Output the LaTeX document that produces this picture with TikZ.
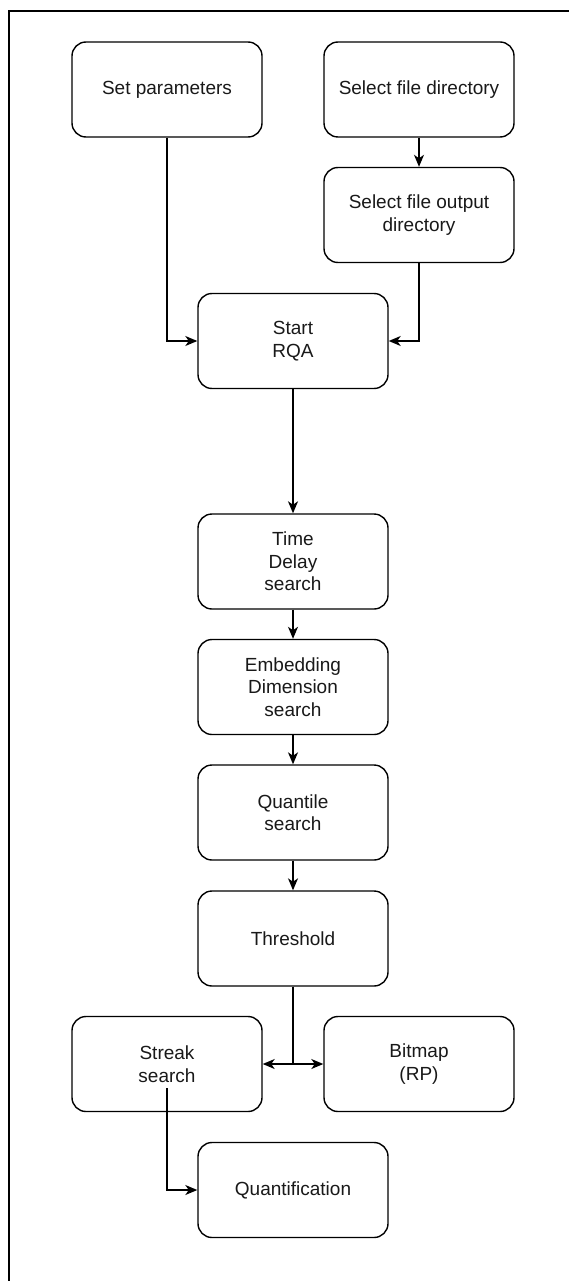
\documentclass[tikz,border=0pt]{standalone}
\usepackage{fontspec}
\setmainfont{Liberation Sans}
\usetikzlibrary{arrows.meta}
\begin{document}
\begin{tikzpicture}[x=1pt,y=-1pt,
  box/.style={draw=black, line width=1.4pt, rounded corners=14pt,
    minimum width=190pt, minimum height=95pt, inner sep=0pt,
    align=center, text=black!90, font=\fontsize{19}{22.5}\selectfont},
  conn/.style={draw=black, line width=1.4pt,
    -{Stealth[length=12pt,width=10pt,inset=3.5pt]}},
  frame/.style={draw=black, line width=1.6pt}]
\useasboundingbox (0,0) rectangle (569,1281);
\fill[white] (0,0) rectangle (569,1281);
\draw[frame] (9,1281) -- (9,11) -- (569,11);

\node[box] (setp)    at (167,89.5) {Set parameters};
\node[box] (dir)     at (419,89.5) {Select file directory};
\node[box] (out)     at (419,215)  {Select file output\\directory};
\node[box] (start)   at (293,341)  {Start\\RQA};
\node[box] (td)      at (293,561.5){Time\\Delay\\search};
\node[box] (emb)     at (293,687)  {Embedding\\Dimension\\search};
\node[box] (quant)   at (293,812.5){Quantile\\search};
\node[box] (thr)     at (293,938.5){Threshold};
\node[box] (streak)  at (167,1064) {Streak\\search};
\node[box] (bitmap)  at (419,1064) {Bitmap\\(RP)};
\node[box] (quantif) at (293,1190) {Quantification};
\coordinate (sq) at (167,1088);

\draw[conn] (setp.south) |- (start.west);
\draw[conn] (dir.south) -- (out.north);
\draw[conn] (out.south) |- (start.east);
\draw[conn] (start.south) -- (td.north);
\draw[conn] (td.south) -- (emb.north);
\draw[conn] (emb.south) -- (quant.north);
\draw[conn] (quant.south) -- (thr.north);
\draw[conn] (thr.south) |- (streak.east);
\draw[conn] (thr.south) |- (bitmap.west);
\draw[conn] (sq) |- (quantif.west);
\end{tikzpicture}
\end{document}
